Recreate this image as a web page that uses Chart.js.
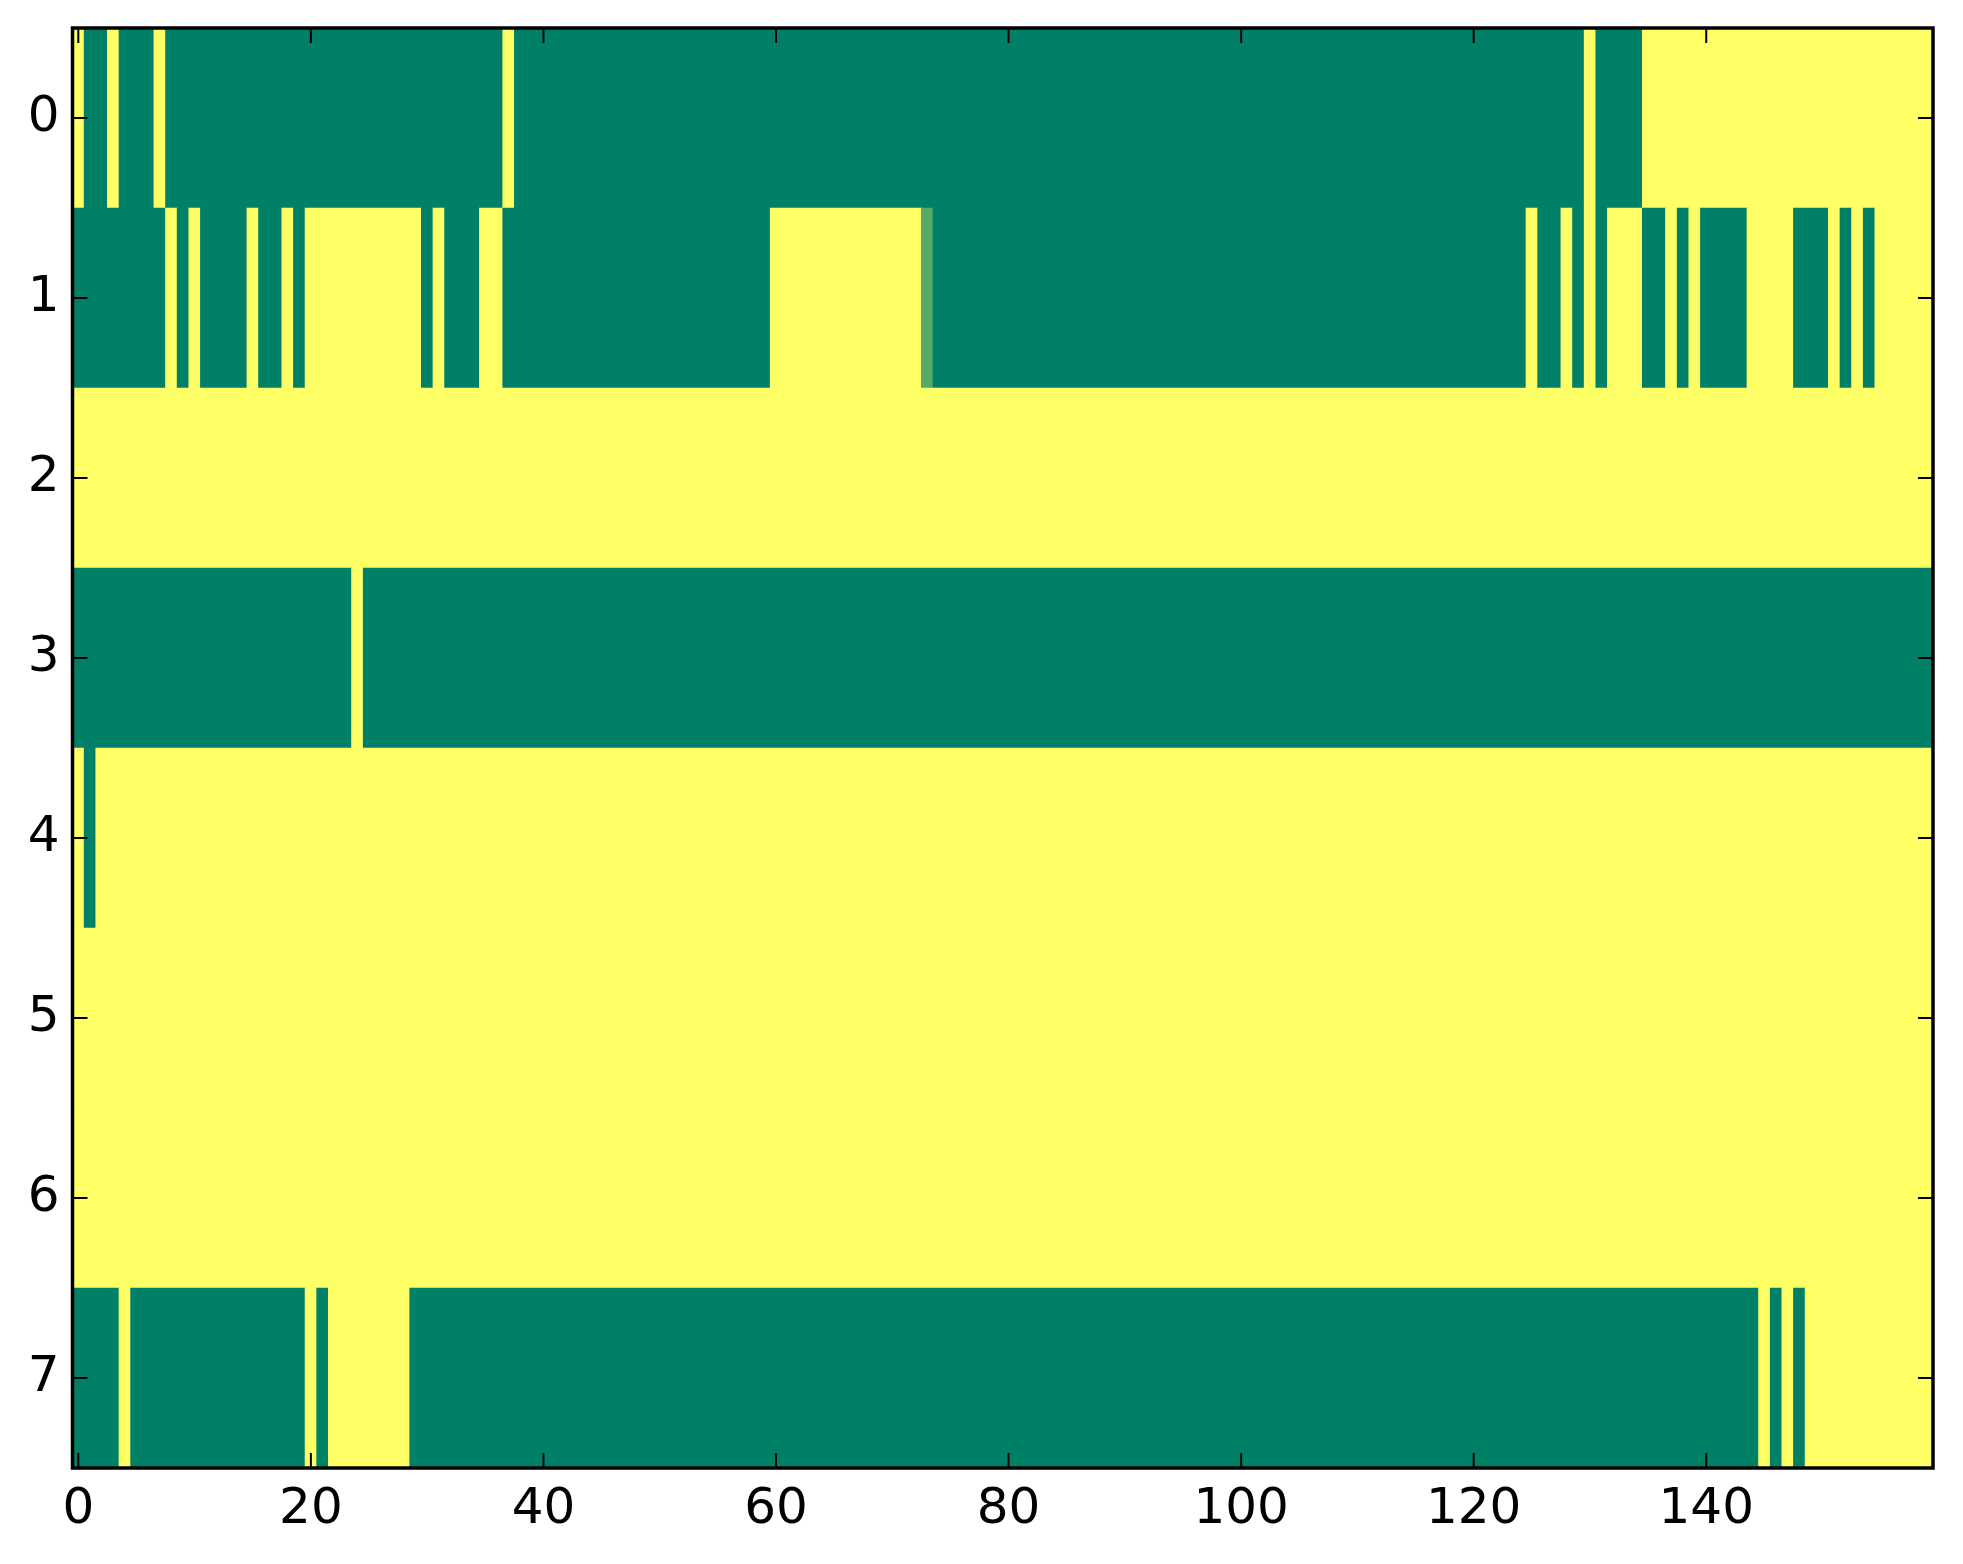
<!DOCTYPE html>
<html>
<head>
<meta charset="utf-8">
<script src="https://cdn.jsdelivr.net/npm/chart.js@4.4.1/dist/chart.umd.min.js"></script>
<style>
html, body { margin: 0; padding: 0; background: #fff; }
#wrap { width: 1963px; height: 1564px; }
</style>
</head>
<body>
<div id="wrap"><canvas id="heat" width="1963" height="1564"></canvas></div>
<script>
// cell values, one array per row (0 = low / green, 1 = high / yellow), 160 columns each
var row0 = [
  1,0,0,1,0,0,0,1,0,0,  0,0,0,0,0,0,0,0,0,0,  0,0,0,0,0,0,0,0,0,0,  0,0,0,0,0,0,0,1,0,0,
  0,0,0,0,0,0,0,0,0,0,  0,0,0,0,0,0,0,0,0,0,  0,0,0,0,0,0,0,0,0,0,  0,0,0,0,0,0,0,0,0,0,
  0,0,0,0,0,0,0,0,0,0,  0,0,0,0,0,0,0,0,0,0,  0,0,0,0,0,0,0,0,0,0,  0,0,0,0,0,0,0,0,0,0,
  0,0,0,0,0,0,0,0,0,0,  1,0,0,0,0,1,1,1,1,1,  1,1,1,1,1,1,1,1,1,1,  1,1,1,1,1,1,1,1,1,1
];
var row1 = [
  0,0,0,0,0,0,0,0,1,0,  1,0,0,0,0,1,0,0,1,0,  1,1,1,1,1,1,1,1,1,1,  0,1,0,0,0,1,1,0,0,0,
  0,0,0,0,0,0,0,0,0,0,  0,0,0,0,0,0,0,0,0,0,  1,1,1,1,1,1,1,1,1,1,  1,1,1,0.33,0,0,0,0,0,0,
  0,0,0,0,0,0,0,0,0,0,  0,0,0,0,0,0,0,0,0,0,  0,0,0,0,0,0,0,0,0,0,  0,0,0,0,0,0,0,0,0,0,
  0,0,0,0,0,1,0,0,1,0,  1,0,1,1,1,0,0,1,0,1,  0,0,0,0,1,1,1,1,0,0,  0,1,0,1,0,1,1,1,1,1
];
var row2 = [
  1,1,1,1,1,1,1,1,1,1,  1,1,1,1,1,1,1,1,1,1,  1,1,1,1,1,1,1,1,1,1,  1,1,1,1,1,1,1,1,1,1,
  1,1,1,1,1,1,1,1,1,1,  1,1,1,1,1,1,1,1,1,1,  1,1,1,1,1,1,1,1,1,1,  1,1,1,1,1,1,1,1,1,1,
  1,1,1,1,1,1,1,1,1,1,  1,1,1,1,1,1,1,1,1,1,  1,1,1,1,1,1,1,1,1,1,  1,1,1,1,1,1,1,1,1,1,
  1,1,1,1,1,1,1,1,1,1,  1,1,1,1,1,1,1,1,1,1,  1,1,1,1,1,1,1,1,1,1,  1,1,1,1,1,1,1,1,1,1
];
var row3 = [
  0,0,0,0,0,0,0,0,0,0,  0,0,0,0,0,0,0,0,0,0,  0,0,0,0,1,0,0,0,0,0,  0,0,0,0,0,0,0,0,0,0,
  0,0,0,0,0,0,0,0,0,0,  0,0,0,0,0,0,0,0,0,0,  0,0,0,0,0,0,0,0,0,0,  0,0,0,0,0,0,0,0,0,0,
  0,0,0,0,0,0,0,0,0,0,  0,0,0,0,0,0,0,0,0,0,  0,0,0,0,0,0,0,0,0,0,  0,0,0,0,0,0,0,0,0,0,
  0,0,0,0,0,0,0,0,0,0,  0,0,0,0,0,0,0,0,0,0,  0,0,0,0,0,0,0,0,0,0,  0,0,0,0,0,0,0,0,0,0
];
var row4 = [
  1,0,1,1,1,1,1,1,1,1,  1,1,1,1,1,1,1,1,1,1,  1,1,1,1,1,1,1,1,1,1,  1,1,1,1,1,1,1,1,1,1,
  1,1,1,1,1,1,1,1,1,1,  1,1,1,1,1,1,1,1,1,1,  1,1,1,1,1,1,1,1,1,1,  1,1,1,1,1,1,1,1,1,1,
  1,1,1,1,1,1,1,1,1,1,  1,1,1,1,1,1,1,1,1,1,  1,1,1,1,1,1,1,1,1,1,  1,1,1,1,1,1,1,1,1,1,
  1,1,1,1,1,1,1,1,1,1,  1,1,1,1,1,1,1,1,1,1,  1,1,1,1,1,1,1,1,1,1,  1,1,1,1,1,1,1,1,1,1
];
var row5 = [
  1,1,1,1,1,1,1,1,1,1,  1,1,1,1,1,1,1,1,1,1,  1,1,1,1,1,1,1,1,1,1,  1,1,1,1,1,1,1,1,1,1,
  1,1,1,1,1,1,1,1,1,1,  1,1,1,1,1,1,1,1,1,1,  1,1,1,1,1,1,1,1,1,1,  1,1,1,1,1,1,1,1,1,1,
  1,1,1,1,1,1,1,1,1,1,  1,1,1,1,1,1,1,1,1,1,  1,1,1,1,1,1,1,1,1,1,  1,1,1,1,1,1,1,1,1,1,
  1,1,1,1,1,1,1,1,1,1,  1,1,1,1,1,1,1,1,1,1,  1,1,1,1,1,1,1,1,1,1,  1,1,1,1,1,1,1,1,1,1
];
var row6 = [
  1,1,1,1,1,1,1,1,1,1,  1,1,1,1,1,1,1,1,1,1,  1,1,1,1,1,1,1,1,1,1,  1,1,1,1,1,1,1,1,1,1,
  1,1,1,1,1,1,1,1,1,1,  1,1,1,1,1,1,1,1,1,1,  1,1,1,1,1,1,1,1,1,1,  1,1,1,1,1,1,1,1,1,1,
  1,1,1,1,1,1,1,1,1,1,  1,1,1,1,1,1,1,1,1,1,  1,1,1,1,1,1,1,1,1,1,  1,1,1,1,1,1,1,1,1,1,
  1,1,1,1,1,1,1,1,1,1,  1,1,1,1,1,1,1,1,1,1,  1,1,1,1,1,1,1,1,1,1,  1,1,1,1,1,1,1,1,1,1
];
var row7 = [
  0,0,0,0,1,0,0,0,0,0,  0,0,0,0,0,0,0,0,0,0,  1,0,1,1,1,1,1,1,1,0,  0,0,0,0,0,0,0,0,0,0,
  0,0,0,0,0,0,0,0,0,0,  0,0,0,0,0,0,0,0,0,0,  0,0,0,0,0,0,0,0,0,0,  0,0,0,0,0,0,0,0,0,0,
  0,0,0,0,0,0,0,0,0,0,  0,0,0,0,0,0,0,0,0,0,  0,0,0,0,0,0,0,0,0,0,  0,0,0,0,0,0,0,0,0,0,
  0,0,0,0,0,0,0,0,0,0,  0,0,0,0,0,0,0,0,0,0,  0,0,0,0,0,1,0,1,0,1,  1,1,1,1,1,1,1,1,1,1
];
var rows = [row0, row1, row2, row3, row4, row5, row6, row7];

// tick labels
var xTicks = [0, 20, 40, 60, 80, 100, 120, 140];
var yTicks = [0, 1, 2, 3, 4, 5, 6, 7];

// matplotlib "summer" colormap
function summer(v) {
  var r = Math.round(255 * v);
  var g = Math.round(255 * (0.5 + 0.5 * v));
  return 'rgb(' + r + ',' + g + ',102)';
}

// merge equal neighbours of a row into one floating bar (avoids hairline seams)
var cells = [];
var colors = [];
rows.forEach(function(vals, r) {
  var start = 0;
  for (var c = 1; c <= vals.length; c++) {
    if (c === vals.length || vals[c] !== vals[start]) {
      cells.push({ x: [start - 0.5, c - 0.5], y: r });
      colors.push(summer(vals[start]));
      start = c;
    }
  }
});

var frame = {
  id: 'frame',
  afterDraw: function(chart) {
    var ctx = chart.ctx, a = chart.chartArea;
    var xs = chart.scales.x, ys = chart.scales.y;
    ctx.save();
    ctx.strokeStyle = '#000';
    ctx.lineWidth = 2;
    ctx.beginPath();
    xTicks.forEach(function(v) {
      var px = xs.getPixelForValue(v);
      ctx.moveTo(px, a.bottom); ctx.lineTo(px, a.bottom - 15);
      ctx.moveTo(px, a.top); ctx.lineTo(px, a.top + 15);
    });
    yTicks.forEach(function(v) {
      var py = ys.getPixelForValue(v);
      ctx.moveTo(a.left, py); ctx.lineTo(a.left + 15, py);
      ctx.moveTo(a.right, py); ctx.lineTo(a.right - 15, py);
    });
    ctx.stroke();
    ctx.lineWidth = 3.5;
    ctx.strokeRect(a.left, a.top, a.right - a.left, a.bottom - a.top);
    ctx.restore();
  }
};

var ctx = document.getElementById('heat').getContext('2d');
var heat = new Chart(ctx, {
  type: 'bar',
  data: {
    datasets: [{
      data: cells,
      backgroundColor: colors,
      borderWidth: 0,
      categoryPercentage: 1,
      barPercentage: 1
    }]
  },
  options: {
    indexAxis: 'y',
    responsive: false,
    devicePixelRatio: 1,
    animation: false,
    layout: { padding: { top: 28, right: 30, left: 0, bottom: 0 } },
    plugins: { legend: { display: false }, tooltip: { enabled: false } },
    scales: {
      x: {
        type: 'linear',
        position: 'bottom',
        min: -0.5,
        max: 159.5,
        offset: false,
        grid: { display: false, drawTicks: false },
        border: { display: false },
        afterBuildTicks: function(s) { s.ticks = xTicks.map(function(v) { return { value: v }; }); },
        afterFit: function(s) { s.height = 96; s.paddingLeft = 0; s.paddingRight = 0; },
        ticks: {
          padding: 12,
          maxRotation: 0,
          autoSkip: false,
          color: '#000',
          font: { family: 'DejaVu Sans', size: 50 },
          callback: function(v) { return String(v); }
        }
      },
      y: {
        type: 'linear',
        position: 'left',
        reverse: true,
        min: -0.5,
        max: 7.5,
        offset: false,
        grid: { display: false, drawTicks: false },
        border: { display: false },
        afterBuildTicks: function(s) { s.ticks = yTicks.map(function(v) { return { value: v }; }); },
        afterFit: function(s) { s.width = 72.5; s.paddingTop = 0; s.paddingBottom = 0; },
        ticks: {
          padding: 13,
          autoSkip: false,
          color: '#000',
          font: { family: 'DejaVu Sans', size: 50 },
          callback: function(v) { return String(v); }
        }
      }
    }
  },
  plugins: [frame]
});
</script>
</body>
</html>
